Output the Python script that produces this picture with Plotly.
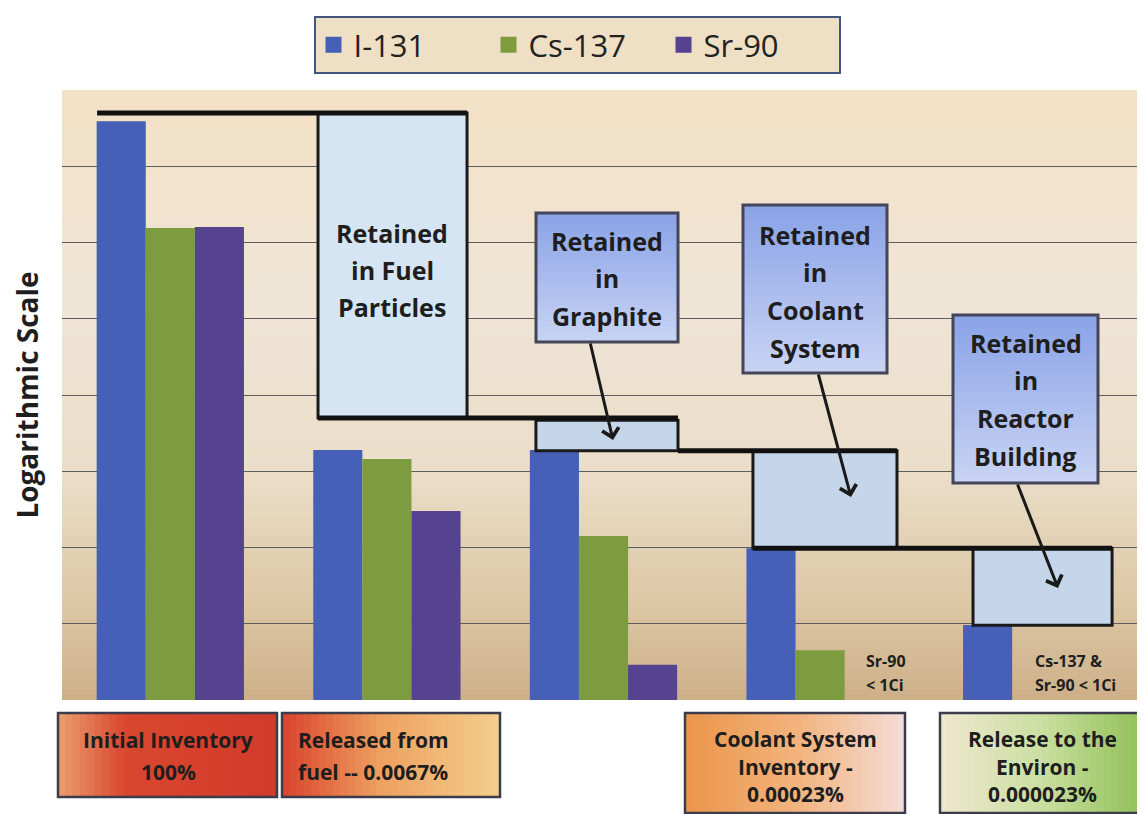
import plotly.graph_objects as go

# ---------------- data (Ci on a log scale) ----------------
categories = ["Initial Inventory", "Released from fuel", "Retained in Graphite",
              "Coolant System Inventory", "Release to the Environ"]
i131 = [3.9e7, 1900, 1900, 98, 9.6]
cs137 = [1.55e6, 1450, 141, 4.5, None]
sr90 = [1.6e6, 300, 2.9, None, None]
series_names = ["I-131", "Cs-137", "Sr-90"]
series_colors = ["#4560b6", "#7d9c3f", "#55438f"]

# retention staircase levels (log10 Ci)
level_fuel_top = 7.70
level_fuel_bottom = 3.70
level_graphite_bottom = 3.27
level_coolant_bottom = 1.99
level_building_bottom = 0.98

stage_boxes = [
    ["Initial Inventory", "100%"],
    ["Released from", "fuel -- 0.0067%"],
    ["Coolant System", "Inventory -", "0.00023%"],
    ["Release to the", "Environ -", "0.000023%"],
]

FONT = "Open Sans"
TXT = "#1e1e1e"

# the page adds an 8px body margin; figure is sized so that it ends at the window edge
OFF = 8
W, H = 1145 - OFF, 814 - OFF
PX0, PX1, PY0, PY1 = 62, 1145, 90, 700          # plot area in page pixels
L, T = PX0 - OFF, PY0 - OFF
R, B = W - (PX1 - OFF), H - (PY1 - OFF)
PW, PH = PX1 - PX0, PY1 - PY0


def px(x):
    return (x - PX0) / PW


def py(y):
    return (PY1 - y) / PH


def hex2rgb(h):
    h = h.lstrip("#")
    return [int(h[i:i + 2], 16) for i in (0, 2, 4)]


def lerp_color(stops, t):
    for i in range(len(stops) - 1):
        p0, c0 = stops[i]
        p1, c1 = stops[i + 1]
        if t <= p1:
            f = (t - p0) / (p1 - p0) if p1 > p0 else 0
            a, b = hex2rgb(c0), hex2rgb(c1)
            return "rgb(%d,%d,%d)" % tuple(round(a[k] + (b[k] - a[k]) * f) for k in range(3))
    return stops[-1][1]


shapes = []
annotations = []


def grad_rect(x0, y0, x1, y1, stops, n, horizontal, layer="above", outline=None, lw=2.5):
    for k in range(n):
        t = (k + 0.5) / n
        col = lerp_color(stops, t)
        if horizontal:
            a = x0 + (x1 - x0) * k / n
            b = min(x0 + (x1 - x0) * (k + 1) / n + 0.8, x1)
            shapes.append(dict(type="rect", xref="paper", yref="paper", x0=px(a), x1=px(b),
                               y0=py(y1), y1=py(y0), fillcolor=col, line_width=0, layer=layer))
        else:
            a = y0 + (y1 - y0) * k / n
            b = min(y0 + (y1 - y0) * (k + 1) / n + 0.8, y1)
            shapes.append(dict(type="rect", xref="paper", yref="paper", x0=px(x0), x1=px(x1),
                               y0=py(b), y1=py(a), fillcolor=col, line_width=0, layer=layer))
    if outline:
        shapes.append(dict(type="rect", xref="paper", yref="paper", x0=px(x0), x1=px(x1),
                           y0=py(y1), y1=py(y0), line=dict(color=outline, width=lw),
                           fillcolor="rgba(0,0,0,0)", layer=layer))


def text_lines(lines, x, ys, size, anchor="center"):
    for s, y in zip(lines, ys):
        annotations.append(dict(text="<b>%s</b>" % s, xref="paper", yref="paper",
                                x=px(x), y=py(y), xanchor=anchor, yanchor="middle",
                                showarrow=False, font=dict(family=FONT, size=size, color=TXT)))


# plot-area background gradient
grad_rect(PX0, PY0, PX1, PY1,
          [(0, "#f3e1c5"), (0.35, "#efe5d6"), (0.62, "#ebdec9"), (0.85, "#dcc6a4"), (1, "#cdb089")],
          60, horizontal=False, layer="below")

# ---------------- figure ----------------
fig = go.Figure()
for name, vals, col in zip(series_names, [i131, cs137, sr90], series_colors):
    fig.add_trace(go.Bar(x=categories, y=vals, name=name, marker_color=col,
                         marker_line_width=0, showlegend=False, legendgroup=name))
    fig.add_trace(go.Scatter(x=[None], y=[None], mode="markers", name=name, legendgroup=name,
                             marker=dict(symbol="square", size=22, color=col)))
fig.add_trace(go.Scatter(x=[None], y=[None], yaxis="y2", showlegend=False, hoverinfo="skip"))

# ---------------- retention staircase (category x, log10 y on y2) ----------------
BLK = "#111111"


def hline(x0, x1, y, w=5):
    shapes.append(dict(type="line", xref="x", yref="y2", x0=x0, x1=x1, y0=y, y1=y,
                       line=dict(color=BLK, width=w)))


def box(x0, x1, y0, y1, fill):
    shapes.append(dict(type="rect", xref="x", yref="y2", x0=x0, x1=x1, y0=y0, y1=y1,
                       fillcolor=fill, line=dict(color="#1a1a1a", width=3)))


box(0.682, 1.37, level_fuel_bottom, level_fuel_top, "#d5e5f4")
hline(-0.338, 1.37, level_fuel_top)
box(1.688, 2.344, level_graphite_bottom, level_fuel_bottom - 0.03, "#c6d6ea")
hline(0.682, 2.344, level_fuel_bottom)
box(2.69, 3.355, level_coolant_bottom, level_graphite_bottom, "#c6d6ea")
hline(2.344, 3.355, level_graphite_bottom)
box(3.706, 4.348, level_building_bottom, level_coolant_bottom, "#c6d6ea")
hline(2.69, 4.348, level_coolant_bottom)

text_lines(["Retained", "in Fuel", "Particles"], 392, [233, 270, 307], 25)

# ---------------- callout boxes ----------------
callout_stops = [(0, "#8aa3e6"), (0.5, "#a9bbee"), (1, "#c9d4f3")]
callouts = [
    (536, 213, 678, 342, ["Retained", "in", "Graphite"], [241, 278, 316], (613, 440), (590, 342)),
    (743, 205, 887, 373, ["Retained", "in", "Coolant", "System"], [235, 272, 310, 348], (851, 497), (818, 373)),
    (953, 315, 1098, 483, ["Retained", "in", "Reactor", "Building"], [343, 380, 418, 456], (1058, 588), (1017, 483)),
]
for x0, y0, x1, y1, lines, ys, head, tail in callouts:
    grad_rect(x0, y0, x1, y1, callout_stops, 24, horizontal=False, outline="#45455a", lw=3)
    text_lines(lines, (x0 + x1) / 2, ys, 25)
    annotations.append(dict(text="", xref="paper", yref="paper", x=px(head[0]), y=py(head[1]),
                            ax=tail[0] - head[0], ay=tail[1] - head[1], showarrow=True,
                            arrowhead=4, arrowsize=1.1, arrowwidth=3, arrowcolor="#1a1a1a"))

# small notes
text_lines(["Sr-90", "< 1Ci"], 864, [661, 685], 16, anchor="left")
text_lines(["Cs-137 &", "Sr-90 < 1Ci"], 1033, [661, 685], 16, anchor="left")

# ---------------- stage label boxes below the plot ----------------
stage_geo = [
    (58, 713, 277, 797, [(0, "#eba070"), (0.3, "#d9472f"), (1, "#d23a2a")], 168, "center", [740, 772]),
    (282, 713, 500, 797, [(0, "#d9432c"), (0.45, "#eea060"), (1, "#f4cf8c")], 296, "left", [740, 772]),
    (685, 713, 905, 813, [(0, "#eb954a"), (0.5, "#f2b37c"), (1, "#f4dcd6")], 795, "center", [739, 767, 794]),
    (940, 713, 1145, 813, [(0, "#efe7cf"), (0.5, "#cadfa0"), (1, "#8fc055")], 1042, "center", [739, 767, 794]),
]
for (x0, y0, x1, y1, stops, tx, anch, ys), lines in zip(stage_geo, stage_boxes):
    grad_rect(x0, y0, x1, y1, stops, 30, horizontal=True, outline="#3c3c4c", lw=2.5)
    text_lines(lines, tx, ys, 21, anchor=anch)

fig.update_layout(
    width=W, height=H,
    margin=dict(l=L, r=R, t=T, b=B),
    paper_bgcolor="white",
    plot_bgcolor="#efe5d6",
    barmode="group", bargap=0.32, bargroupgap=0,
    font=dict(family=FONT, color=TXT),
    xaxis=dict(type="category", range=[-0.5, 4.5], showticklabels=False, showgrid=False,
               ticks="", zeroline=False, showline=False),
    yaxis=dict(type="log", range=[0, 8], dtick=1, showticklabels=False, ticks="",
               showgrid=True, gridcolor="#5e5e5e", gridwidth=1.2, zeroline=False, showline=False,
               title=dict(text="<b>Logarithmic Scale</b>", standoff=14,
                          font=dict(family=FONT, size=28, color=TXT))),
    yaxis2=dict(overlaying="y", range=[0, 8], visible=False, showgrid=False),
    legend=dict(orientation="h", x=px(577), xanchor="center", y=py(16), yanchor="top",
                bgcolor="#efdfc4", bordercolor="#46557f", borderwidth=2,
                font=dict(family=FONT, size=31, color="#222222"), entrywidth=130,
                itemclick=False, itemdoubleclick=False),
    shapes=shapes,
    annotations=annotations,
)

fig.write_html("out.html")
